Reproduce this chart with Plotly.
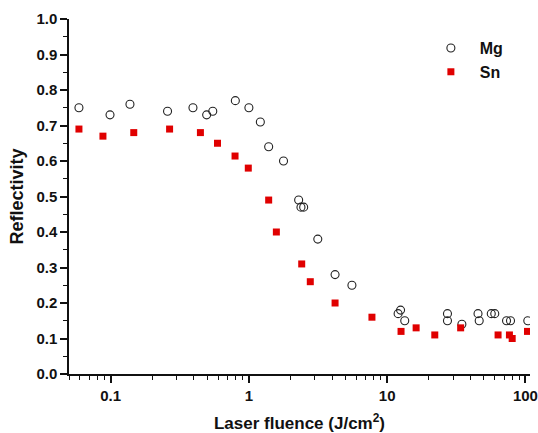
import plotly.graph_objects as go

mg_x = [0.059, 0.099, 0.138, 0.258, 0.394, 0.495, 0.548, 0.798, 1.0, 1.21, 1.39, 1.78,
        2.29, 2.38, 2.49, 3.15, 4.2, 5.56, 12.0, 12.5, 13.4, 27.3, 27.3, 34.7, 45.4, 46.3,
        56.6, 60.0, 73.0, 78.0, 104.0]
mg_y = [0.75, 0.73, 0.76, 0.74, 0.75, 0.73, 0.74, 0.77, 0.75, 0.71, 0.64, 0.60,
        0.49, 0.47, 0.47, 0.38, 0.28, 0.25, 0.17, 0.18, 0.15, 0.17, 0.15, 0.14, 0.17, 0.15,
        0.17, 0.17, 0.15, 0.15, 0.15]

sn_x = [0.059, 0.088, 0.147, 0.267, 0.446, 0.593, 0.794, 0.99, 1.39, 1.58, 2.41, 2.78,
        4.2, 7.76, 12.6, 16.2, 22.1, 34.0, 63.4, 76.6, 80.2, 103.5]
sn_y = [0.69, 0.67, 0.68, 0.69, 0.68, 0.65, 0.614, 0.58, 0.49, 0.40, 0.31, 0.26,
        0.20, 0.16, 0.12, 0.13, 0.11, 0.13, 0.11, 0.11, 0.10, 0.12]

x_major = [0.1, 1, 10, 100]
x_major_text = ["0.1", "1", "10", "100"]
x_minor = [m * d for d in [0.01, 0.1, 1, 10] for m in range(2, 10)]
y_major = [round(0.1 * i, 1) for i in range(11)]
y_major_text = ["%.1f" % v for v in y_major]
y_minor = [round(0.05 + 0.1 * i, 2) for i in range(10)]

FONT = "Liberation Sans, Arial, sans-serif"
NB = "\u00a0\u00a0"

fig = go.Figure()
fig.add_trace(go.Scatter(
    x=mg_x, y=mg_y, mode="markers", name=NB + "Mg",
    marker=dict(symbol="circle-open", size=8, color="#222222", line=dict(width=1.1)),
))
fig.add_trace(go.Scatter(
    x=sn_x, y=sn_y, mode="markers", name=NB + "Sn",
    marker=dict(symbol="square", size=7, color="#e00000"),
))

fig.update_layout(
    width=538, height=433,
    margin=dict(l=69, r=8, t=19, b=59, autoexpand=False),
    paper_bgcolor="white", plot_bgcolor="white",
    font=dict(family=FONT, color="#111111"),
    legend=dict(x=0.785, y=0.966, xanchor="left", yanchor="top",
                font=dict(size=16, weight="bold"), bgcolor="rgba(0,0,0,0)",
                itemsizing="trace"),
    showlegend=True,
)
fig.update_xaxes(
    type="log", range=[-1.301, 2.033], automargin=False,
    showgrid=False, zeroline=False,
    showline=True, linecolor="#111111", linewidth=1.5,
    tickmode="array", tickvals=x_major, ticktext=x_major_text,
    ticks="outside", ticklen=7, tickwidth=1.5, tickcolor="#111111",
    tickfont=dict(size=15, weight="bold"), ticklabeloverflow="allow",
    minor=dict(tickmode="array", tickvals=x_minor, ticks="outside", ticklen=4,
               tickwidth=1.2, tickcolor="#111111", showgrid=False),
    title=dict(text="Laser fluence (J/cm<sup>2</sup>)", font=dict(size=17, weight="bold"),
               standoff=18),
)
fig.update_yaxes(
    range=[0, 1.0], automargin=False,
    showgrid=False, zeroline=False,
    showline=True, linecolor="#111111", linewidth=1.5,
    tickmode="array", tickvals=y_major, ticktext=y_major_text,
    ticks="outside", ticklen=7, tickwidth=1.5, tickcolor="#111111",
    tickfont=dict(size=15, weight="bold"),
    minor=dict(tickmode="array", tickvals=y_minor, ticks="outside", ticklen=4,
               tickwidth=1.2, tickcolor="#111111", showgrid=False),
    title=dict(text="Reflectivity", font=dict(size=18, weight="bold"), standoff=8),
)

fig.write_html(
    "out.html",
    config={"displayModeBar": False},
    post_script="document.body.style.margin='0';document.documentElement.style.overflow='hidden';",
)
